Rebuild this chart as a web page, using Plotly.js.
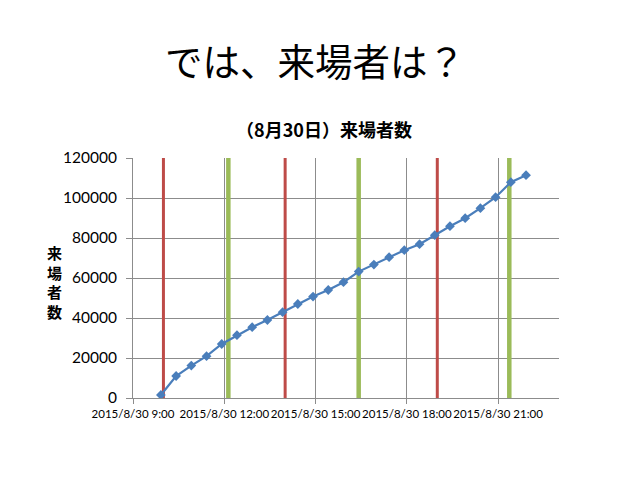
<!DOCTYPE html>
<html>
<head>
<meta charset="utf-8">
<script src="https://cdn.plot.ly/plotly-3.0.1.min.js"></script>
<style>
  html, body { margin: 0; padding: 0; background: #ffffff; }
  #chart { width: 638px; height: 479px; }
</style>
</head>
<body>
<div id="chart"></div>
<script>
// ---- data ----
const pageTitle = 'では、来場者は？';
const chartTitle = '（8月30日）来場者数';
const yTitleChars = ['来', '場', '者', '数'];

const times = [
  '2015-08-30 09:55', '2015-08-30 10:25', '2015-08-30 10:55', '2015-08-30 11:25',
  '2015-08-30 11:55', '2015-08-30 12:25', '2015-08-30 12:55', '2015-08-30 13:25',
  '2015-08-30 13:55', '2015-08-30 14:25', '2015-08-30 14:55', '2015-08-30 15:25',
  '2015-08-30 15:55', '2015-08-30 16:25', '2015-08-30 16:55', '2015-08-30 17:25',
  '2015-08-30 17:55', '2015-08-30 18:25', '2015-08-30 18:55', '2015-08-30 19:25',
  '2015-08-30 19:55', '2015-08-30 20:25', '2015-08-30 20:55', '2015-08-30 21:25',
  '2015-08-30 21:55'
];
const visitors = [
  1500, 11000, 16200, 20900,
  27000, 31400, 35400, 39000,
  42900, 47000, 50700, 54000,
  57900, 63200, 66700, 70400,
  73900, 76900, 81400, 85900,
  89900, 94900, 100400, 107900,
  111400
];

const redLineTimes = ['2015-08-30 10:00', '2015-08-30 14:00', '2015-08-30 19:00'];
const greenLineTimes = ['2015-08-30 12:08', '2015-08-30 16:25', '2015-08-30 21:22'];

const xRange = ['2015-08-30 09:00', '2015-08-30 23:00'];
const yRange = [0, 120000];

// ---- build traces ----
const traces = [];
function eventLine(t, color, width) {
  return {
    x: [t, t], y: yRange, mode: 'lines', type: 'scatter',
    line: { color: color, width: width }, hoverinfo: 'skip', showlegend: false
  };
}
redLineTimes.forEach(t => traces.push(eventLine(t, '#BE4B48', 3)));
greenLineTimes.forEach(t => traces.push(eventLine(t, '#9BBB59', 4.5)));

traces.push({
  x: times, y: visitors, type: 'scatter', mode: 'lines+markers',
  line: { color: '#4A7EBB', width: 2.2 },
  marker: { symbol: 'diamond', size: 7.5, color: '#4A7EBB' },
  showlegend: false
});

const plotW = 638 - 132.6 - 79;
const plotH = 479 - 158 - 81;

const layout = {
  width: 638, height: 479,
  paper_bgcolor: '#ffffff', plot_bgcolor: '#ffffff',
  margin: { l: 132.6, r: 79, t: 158, b: 81 },
  font: { family: 'Lato, "Liberation Sans", sans-serif', color: '#000000' },
  title: {
    text: '<b>' + chartTitle + '</b>',
    font: { family: '"Noto Sans CJK JP", sans-serif', size: 18, color: '#000000' },
    x: 324 / 638, xanchor: 'center', xref: 'container',
    y: 1 - 131 / 479, yanchor: 'middle', yref: 'container'
  },
  xaxis: {
    type: 'date', range: xRange,
    tick0: '2015-08-30 09:00', dtick: 3 * 3600 * 1000,
    tickformat: '%Y/%-m/%-d %-H:%M', tickangle: 0,
    showgrid: true, gridcolor: '#8C8C8C', gridwidth: 1,
    showline: true, linecolor: '#8C8C8C', linewidth: 1,
    ticks: 'outside', ticklen: 5, tickcolor: '#8C8C8C',
    tickfont: { size: 11.5, color: '#000000' },
    zeroline: false, fixedrange: true
  },
  yaxis: {
    range: yRange, dtick: 20000, tick0: 0,
    tickformat: 'd',
    showgrid: true, gridcolor: '#8C8C8C', gridwidth: 1,
    showline: true, linecolor: '#8C8C8C', linewidth: 1,
    ticks: 'outside', ticklen: 6, tickcolor: '#8C8C8C',
    ticklabelstandoff: 6,
    tickfont: { size: 15.5, color: '#000000' },
    zeroline: false, fixedrange: true
  },
  annotations: [
    {
      text: pageTitle, xref: 'paper', yref: 'paper',
      x: (315 - 132.6) / plotW, y: (479 - 60 - 81) / plotH,
      xanchor: 'center', yanchor: 'middle', showarrow: false,
      font: { family: '"Noto Sans CJK JP", sans-serif', size: 37.5, color: '#000000' }
    },
    {
      text: '<b>' + yTitleChars.join('<br>') + '</b>', xref: 'paper', yref: 'paper',
      x: (54 - 132.6) / plotW, y: (479 - 282 - 81) / plotH,
      xanchor: 'center', yanchor: 'middle', showarrow: false, align: 'center',
      font: { family: '"Noto Sans CJK JP", sans-serif', size: 15, color: '#000000' }
    }
  ]
};

Plotly.newPlot('chart', traces, layout, { displayModeBar: false, staticPlot: true });
</script>
</body>
</html>
